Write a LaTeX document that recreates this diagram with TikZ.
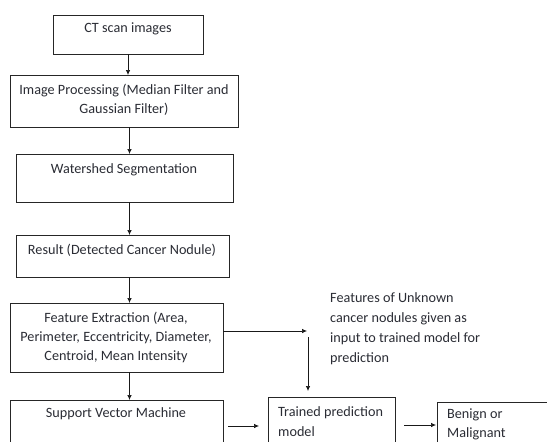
\documentclass[tikz,border=0pt]{standalone}
\usepackage{fontspec}
\setmainfont{Carlito}
\usetikzlibrary{arrows.meta}
\definecolor{txt}{HTML}{2A2C34}
\begin{document}
\begin{tikzpicture}[x=1pt,y=-1pt,
  box/.style={draw=black!85, line width=0.8pt, inner sep=0pt, anchor=north west},
  lbl/.style={text=txt, font=\fontsize{14.2}{19}\selectfont, inner sep=0pt, align=center, anchor=base},
  lbll/.style={text=txt, font=\fontsize{14.2}{20}\selectfont, inner sep=0pt, align=left, anchor=base west},
  arr/.style={-{Latex[length=5pt,width=4.5pt]}, line width=0.7pt, draw=black!90}]
\useasboundingbox (0,0) rectangle (547,442);
\clip (0,0) rectangle (547,442);
% boxes
\node[box, minimum width=150pt, minimum height=39pt] (ct) at (53,15) {};
\node[box, minimum width=228pt, minimum height=52pt] (ip) at (10,75) {};
\node[box, minimum width=217pt, minimum height=48pt] (ws) at (16,154) {};
\node[box, minimum width=213pt, minimum height=42pt] (res) at (16,235) {};
\node[box, minimum width=213pt, minimum height=69pt] (feat) at (10,303) {};
\node[box, minimum width=213pt, minimum height=70pt] (svm) at (10,400) {};
\node[box, minimum width=127pt, minimum height=70pt] (trn) at (268,397) {};
\node[box, minimum width=130pt, minimum height=70pt] (ben) at (437,402) {};
% texts (base anchor = baseline of last line)
\node[lbl] (ctt) at (128,32) {CT scan images};
\node[lbl] (ipt) at (124,113) {Image Processing (Median Filter and\\Gaussian Filter)};
\node[lbl] (wst) at (124,173) {Watershed Segmentation};
\node[lbl] (rest) at (122,254) {Result (Detected Cancer Nodule)};
\node[lbl] (featt) at (116,360) {Feature Extraction (Area,\\Perimeter, Eccentricity, Diameter,\\Centroid, Mean Intensity};
\node[lbl] (svmt) at (116,417) {Support Vector Machine};
\node[lbll] (unk) at (330,362) {Features of Unknown\\cancer nodules given as\\input to trained model for\\prediction};
\node[lbll] (trnt) at (278,436) {Trained prediction\\model};
\node[lbll, font=\fontsize{14.2}{19}\selectfont] (bent) at (447,437) {Benign or\\Malignant};
% connectors
\coordinate (a1) at (128,54);
\coordinate (a2) at (129.5,127);
\coordinate (a3) at (129.5,202);
\coordinate (a4) at (129.5,277);
\coordinate (a5) at (129.5,372);
\draw[arr] (a1) -- (a1 |- ip.north);
\draw[arr] (a2) -- (a2 |- ws.north);
\draw[arr] (a3) -- (a3 |- res.north);
\draw[arr] (a4) -- (a4 |- feat.north);
\draw[arr] (a5) -- (a5 |- svm.north);
\coordinate (f1) at (223,331);
\coordinate (f2) at (307,331);
\draw[arr] (f1) -- (f2);
\coordinate (v1) at (308,337);
\coordinate (v2) at (308,391);
\draw[arr] (v1) -- (v2);
\coordinate (s1) at (228,426);
\coordinate (s2) at (259,426);
\draw[arr] (s1) -- (s2);
\coordinate (t1) at (404,425);
\coordinate (t2) at (436,425);
\draw[arr] (t1) -- (t2);
\end{tikzpicture}
\end{document}
